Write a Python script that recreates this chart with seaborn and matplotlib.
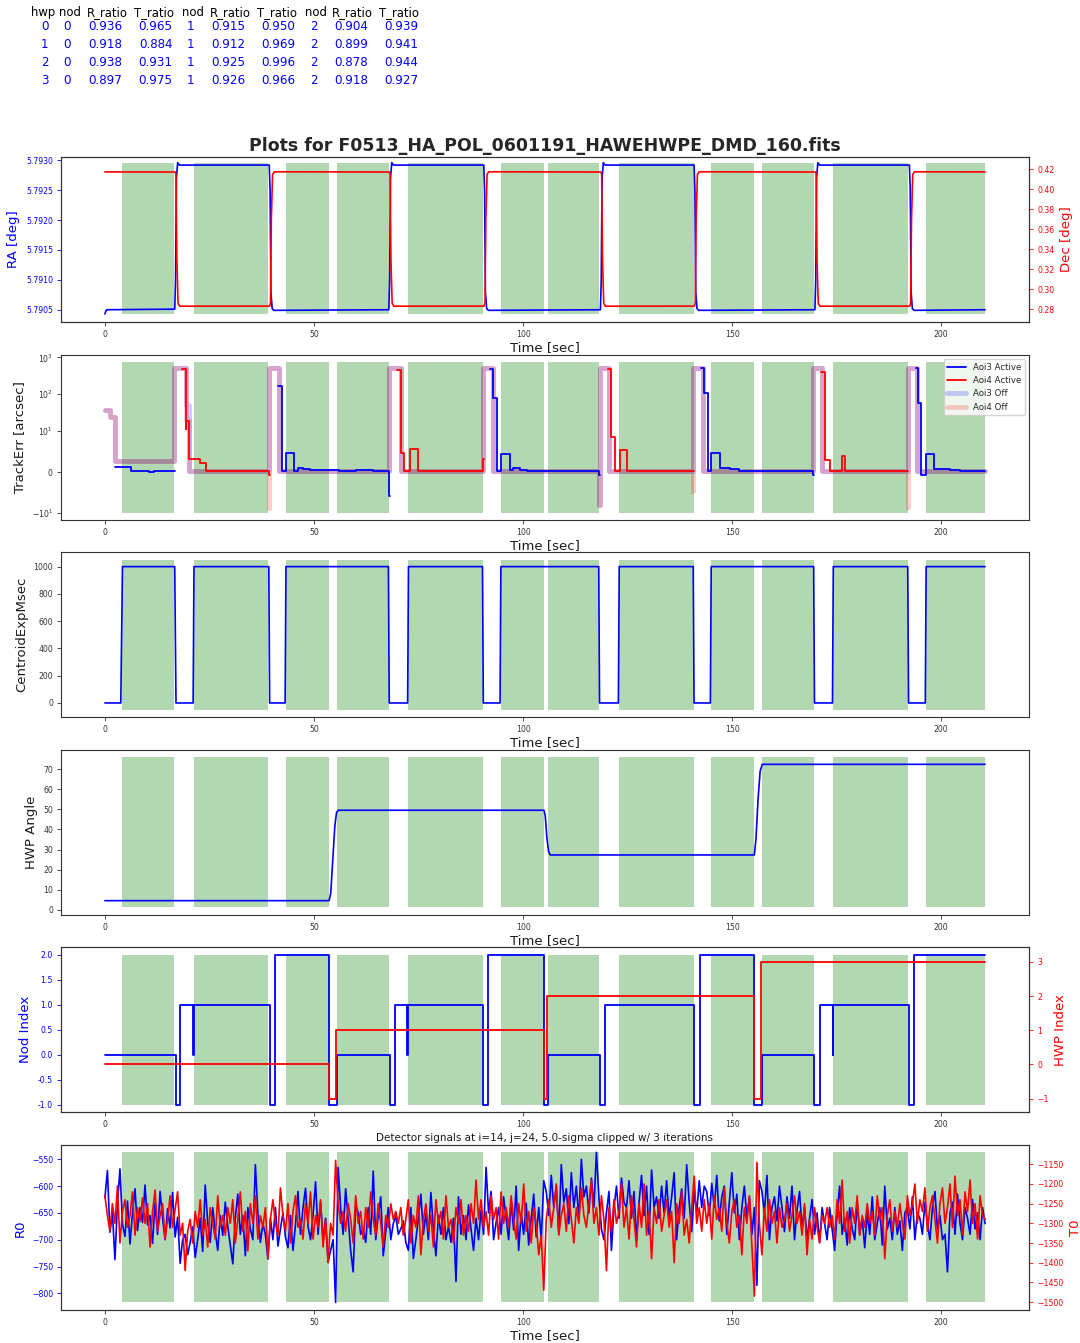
import numpy as np
import pandas as pd
import matplotlib
matplotlib.use("Agg")
import matplotlib.pyplot as plt
import seaborn as sns
from matplotlib.lines import Line2D
from matplotlib.ticker import NullLocator, FixedLocator, FormatStrFormatter

sns.set_theme(style="ticks")
plt.rcParams["font.family"] = ["DejaVu Sans"]
plt.rcParams.update({
    "axes.edgecolor": "0.2",
    "axes.linewidth": 0.8,
    "xtick.major.size": 2.8,
    "ytick.major.size": 2.8,
    "xtick.major.width": 0.6,
    "ytick.major.width": 0.6,
    "xtick.labelsize": 5.6,
    "ytick.labelsize": 5.6,
    "xtick.color": "0.2",
    "ytick.color": "0.2",
    "xtick.major.pad": 3,
    "ytick.major.pad": 3,
})

# ---------------------------------------------------------------- ratio table
table_hwp = [0, 1, 2, 3]
table_nod = [0, 1, 2]
r_ratio = [[0.936, 0.915, 0.904],
           [0.918, 0.912, 0.899],
           [0.938, 0.925, 0.878],
           [0.897, 0.926, 0.918]]
t_ratio = [[0.965, 0.950, 0.939],
           [0.884, 0.969, 0.941],
           [0.931, 0.996, 0.944],
           [0.975, 0.966, 0.927]]

title = "Plots for F0513_HA_POL_0601191_HAWEHWPE_DMD_160.fits"
detector_title = "Detector signals at i=14, j=24, 5.0-sigma clipped w/ 3 iterations"

# ---------------------------------------------------------------- on-source intervals [s]
good_spans = [(4.1, 16.6), (21.3, 39.1), (43.3, 53.6), (55.5, 68.0),
              (72.6, 90.4), (94.7, 105.0), (106.0, 118.2), (123.0, 140.8),
              (145.0, 155.2), (157.1, 169.6), (174.2, 192.1), (196.4, 210.5)]

# ---------------------------------------------------------------- telescope RA / Dec
ra_t = [0.0, 0.3, 0.5,
        16.7, 16.9, 17.1, 17.4, 17.8,
        39.3, 39.5, 39.7, 40.0, 40.4,
        67.9, 68.1, 68.3, 68.6, 69.0,
        90.6, 90.8, 91.0, 91.3, 91.7,
        118.5, 118.7, 118.9, 119.2, 119.6,
        140.9, 141.1, 141.3, 141.6, 142.0,
        169.8, 170.0, 170.2, 170.5, 170.9,
        192.4, 192.6, 192.8, 193.1, 193.5,
        210.5]
ra_deg = [5.79043, 5.79049, 5.79050,
          5.79051, 5.79100, 5.79270, 5.79296, 5.79292,
          5.79292, 5.79250, 5.79080, 5.79052, 5.79049,
          5.79050, 5.79100, 5.79270, 5.79296, 5.79292,
          5.79292, 5.79250, 5.79080, 5.79052, 5.79049,
          5.79050, 5.79100, 5.79270, 5.79296, 5.79292,
          5.79292, 5.79250, 5.79080, 5.79052, 5.79049,
          5.79050, 5.79100, 5.79270, 5.79296, 5.79292,
          5.79292, 5.79250, 5.79080, 5.79052, 5.79049,
          5.79050]
dec_t = [0.0,
         16.8, 17.0, 17.2, 17.5, 17.9,
         39.4, 39.6, 39.8, 40.1, 40.5,
         68.0, 68.2, 68.4, 68.7, 69.1,
         90.7, 90.9, 91.1, 91.4, 91.8,
         118.6, 118.8, 119.0, 119.3, 119.7,
         141.0, 141.2, 141.4, 141.7, 142.1,
         169.9, 170.1, 170.3, 170.6, 171.0,
         192.5, 192.7, 192.9, 193.2, 193.6,
         210.5]
dec_deg = [0.4175,
           0.4174, 0.4150, 0.3300, 0.2860, 0.2832,
           0.2833, 0.2870, 0.3700, 0.4150, 0.4176,
           0.4174, 0.4150, 0.3300, 0.2860, 0.2832,
           0.2833, 0.2870, 0.3700, 0.4150, 0.4176,
           0.4174, 0.4150, 0.3300, 0.2860, 0.2832,
           0.2833, 0.2870, 0.3700, 0.4150, 0.4176,
           0.4174, 0.4150, 0.3300, 0.2860, 0.2832,
           0.2833, 0.2870, 0.3700, 0.4150, 0.4176,
           0.4175]

# ---------------------------------------------------------------- tracking errors [arcsec]
aoi3_active_t = [[2.3, 6.3, 10.5, 11.8, 16.8],
                 [41.3, 42.4, 43.3, 45.3, 46.1, 47.3, 49.0, 51.5, 56.0, 60.0, 64.0, 67.9, 68.1],
                 [92.0, 92.9, 93.8, 94.8, 96.8, 97.6, 99.2, 101.0, 110.0, 115.0, 118.1, 118.3],
                 [142.6, 143.2, 144.2, 145.0, 147.1, 149.6, 151.6, 160.0, 169.3, 169.5],
                 [193.9, 194.5, 195.1, 196.3, 198.4, 202.1, 204.6, 210.5]]
aoi3_active_v = [[1.3, 0.15, -0.1, 0.1, 0.1],
                 [170, 0.2, 4.5, 0.2, 1.0, 0.75, 0.5, 0.35, 0.25, 0.4, 0.3, -6.0, -6.0],
                 [480, 80, 0.2, 4.4, 0.5, 0.9, 0.5, 0.3, 0.25, 0.3, -0.8, -0.8],
                 [500, 105, 0.3, 4.6, 0.9, 0.6, 0.3, 0.2, -0.7, -0.7],
                 [500, 56, -0.9, 4.4, 0.75, 0.55, 0.2, 0.2]]
aoi4_active_t = [[18.5, 19.4, 19.5, 20.2, 22.7, 24.1, 26.0, 30.0, 35.0, 39.2, 39.4],
                 [69.8, 70.8, 71.6, 72.9, 74.8, 80.0, 85.0, 90.5, 90.7],
                 [120.3, 121.0, 121.9, 123.2, 124.8, 130.0, 135.0, 140.7, 140.8],
                 [171.2, 172.3, 173.3, 176.2, 177.0, 185.0, 192.1]]
aoi4_active_v = [[470, 11, 19, 3.2, 2.1, 0.2, 0.1, 0.3, 0.2, -0.7, -0.7],
                 [440, 4.5, 0.2, 5.5, 0.2, 0.3, 0.2, 3.1, 3.1],
                 [470, 8.4, 0.2, 5.3, 0.2, 0.3, 0.2, 0.3, 0.3],
                 [400, 2.8, 0.2, 3.9, 0.2, 0.3, 0.3]]
aoi3_off_t = [0.0, 1.2, 2.3, 16.6, 19.4, 20.0, 39.3, 41.6, 68.0, 70.8, 90.4, 92.8,
              118.2, 118.3, 120.6, 140.7, 143.1, 169.4, 171.5, 192.1, 194.2, 210.5]
aoi3_off_v = [37, 24, 2.7, 500, 50, 0.2, 500, 0.3, 500, 0.2, 500, 0.3,
              -8, 500, 0.2, 500, 0.3, 500, 0.2, 500, 0.3, 0.3]
aoi4_off_t = [0.0, 1.2, 2.3, 16.6, 19.4, 20.0, 39.2, 39.3, 41.6, 68.0, 70.8, 90.4, 92.8,
              118.2, 118.3, 120.6, 140.6, 140.7, 143.1, 169.4, 171.5, 192.0, 192.1, 194.2, 210.5]
aoi4_off_v = [37, 24, 2.7, 500, 20, 0.2, -8.8, 500, 0.3, 500, 0.2, 500, 0.3,
              -8, 500, 0.2, -4.6, 500, 0.3, 500, 0.2, -8.6, 500, 0.3, 0.3]

# ---------------------------------------------------------------- centroid exposure [ms]
cexp_t = [0.0, 3.8, 4.2, 16.7, 17.0, 21.1, 21.3, 39.2, 39.4, 43.1, 43.3, 67.8, 68.0,
          72.4, 72.6, 90.3, 90.5, 94.5, 94.7, 118.1, 118.3, 122.8, 123.0, 140.7, 140.9,
          144.8, 145.0, 169.5, 169.7, 174.0, 174.2, 192.0, 192.2, 196.2, 196.4, 210.5]
cexp_ms = [0, 0, 1000, 1000, 0, 0, 1000, 1000, 0, 0, 1000, 1000, 0,
           0, 1000, 1000, 0, 0, 1000, 1000, 0, 0, 1000, 1000, 0,
           0, 1000, 1000, 0, 0, 1000, 1000, 0, 0, 1000, 1000]

# ---------------------------------------------------------------- half-wave plate angle [deg]
hwp_t = [0.0, 53.6, 54.0, 54.5, 55.0, 55.4, 55.8, 105.0, 105.3, 105.7, 106.1, 106.5,
         155.3, 155.7, 156.2, 156.7, 157.2, 210.5]
hwp_deg = [4.5, 4.5, 8.0, 25.0, 42.0, 48.5, 49.6, 49.6, 47.0, 36.0, 29.0, 27.3,
           27.3, 35.0, 55.0, 69.0, 72.5, 72.5]

# ---------------------------------------------------------------- nod / hwp index
nod_t = [0.0, 16.9, 18.0, 21.15, 21.25, 39.5, 40.7, 53.7, 55.4, 68.1, 69.3, 72.3, 72.4,
         90.5, 91.7, 105.05, 105.9, 118.5, 119.6, 140.9, 142.2, 155.3, 157.1, 169.7,
         170.9, 174.05, 174.15, 192.2, 193.4, 210.5]
nod_index = [0, -1, 1, 0, 1, -1, 2, -1, 0, -1, 1, 0, 1,
             -1, 2, -1, 0, -1, 1, -1, 2, -1, 0, -1,
             1, 0, 1, -1, 2, 2]
hwpi_t = [0.0, 53.7, 55.3, 105.0, 105.8, 155.3, 156.9, 210.5]
hwp_index = [0, -1, 1, -1, 2, -1, 3, 3]

# ---------------------------------------------------------------- detector signals
r0 = [
    -622, -571, -686, -650, -737, -633, -568, -671, -694, -628, -708, -650, -605, -683, -640, -668,
    -598, -672, -655, -707, -631, -690, -610, -660, -700, -642, -678, -612, -695, -658, -744, -700,
    -690, -728, -705, -676, -733, -700, -660, -722, -598, -668, -705, -640, -686, -720, -655, -692,
    -630, -675, -710, -745, -660, -615, -690, -655, -730, -640, -680, -700, -560, -650, -705, -670,
    -690, -736, -660, -700, -640, -712, -680, -650, -695, -715, -655, -720, -672, -610, -690, -640,
    -604, -675, -700, -655, -592, -690, -630, -700, -660, -742, -720, -700, -817, -565, -640, -690,
    -605, -660, -720, -760, -635, -650, -690, -680, -705, -640, -690, -572, -700, -655, -620, -730,
    -685, -640, -700, -670, -655, -690, -680, -665, -705, -720, -640, -735, -700, -660, -615, -690,
    -650, -700, -612, -680, -730, -655, -690, -640, -700, -675, -705, -660, -778, -620, -690, -655,
    -700, -635, -680, -720, -660, -700, -645, -690, -565, -650, -610, -700, -668, -640, -690, -620,
    -660, -700, -630, -682, -600, -720, -650, -690, -632, -710, -660, -615, -695, -640, -700, -590,
    -610, -655, -580, -640, -600, -690, -560, -630, -605, -670, -575, -640, -600, -660, -550, -620,
    -600, -650, -585, -640, -537, -620, -680, -700, -650, -610, -720, -640, -600, -660, -585, -630,
    -640, -590, -660, -610, -700, -630, -580, -655, -600, -690, -570, -640, -620, -660, -600, -650,
    -590, -660, -620, -575, -700, -640, -605, -660, -560, -630, -685, -610, -650, -590, -640, -600,
    -610, -655, -595, -640, -580, -665, -620, -600, -690, -630, -575, -650, -615, -700, -640, -600,
    -660, -620, -690, -640, -785, -590, -610, -650, -580, -700, -640, -620, -665, -600, -640, -685,
    -620, -660, -600, -700, -645, -610, -680, -640, -700, -660, -625, -690, -650, -705, -640, -670,
    -700, -640, -680, -720, -650, -600, -690, -660, -710, -640, -680, -700, -630, -690, -660, -715,
    -650, -690, -620, -700, -670, -640, -710, -600, -680, -660, -700, -640, -690, -665, -720, -650,
    -640, -680, -620, -700, -650, -660, -690, -630, -670, -700, -640, -610, -680, -655, -700, -690,
    -760, -650, -630, -690, -615, -670, -700, -640, -660, -690, -625, -680, -650, -700, -640, -670,
]
t0 = [
    -1230, -1280, -1320, -1250, -1300, -1205, -1350, -1270, -1240, -1310, -1280, -1220, -1330, -1260, -1295, -1235,
    -1300, -1250, -1360, -1270, -1215, -1320, -1280, -1250, -1340, -1290, -1230, -1310, -1265, -1220, -1330, -1300,
    -1420, -1320, -1290, -1350, -1270, -1310, -1240, -1330, -1290, -1360, -1260, -1300, -1340, -1230, -1310, -1280,
    -1330, -1260, -1300, -1240, -1350, -1290, -1220, -1320, -1270, -1370, -1250, -1300, -1230, -1340, -1280, -1310,
    -1260, -1390, -1290, -1240, -1300, -1330, -1210, -1280, -1320, -1250, -1350, -1270, -1230, -1310, -1290, -1340,
    -1250, -1300, -1220, -1340, -1280, -1310, -1240, -1360, -1290, -1400, -1300, -1330, -1140, -1250, -1300, -1270,
    -1320, -1250, -1290, -1350, -1230, -1300, -1270, -1340, -1260, -1310, -1220, -1290, -1330, -1250, -1300, -1360,
    -1280, -1310, -1250, -1290, -1270, -1300, -1260, -1330, -1290, -1240, -1350, -1280, -1310, -1230, -1380, -1290,
    -1250, -1320, -1280, -1360, -1240, -1300, -1270, -1340, -1230, -1310, -1290, -1350, -1260, -1300, -1240, -1330,
    -1280, -1320, -1250, -1300, -1190, -1290, -1240, -1310, -1270, -1330, -1230, -1290, -1260, -1340, -1220, -1300,
    -1260, -1310, -1230, -1290, -1340, -1250, -1300, -1200, -1320, -1270, -1350, -1260, -1300, -1380, -1330, -1470,
    -1290, -1240, -1310, -1260, -1200, -1330, -1280, -1250, -1320, -1230, -1290, -1350, -1260, -1300, -1210, -1280,
    -1310, -1250, -1190, -1300, -1260, -1330, -1230, -1290, -1420, -1260, -1320, -1240, -1300, -1270, -1200, -1310,
    -1260, -1340, -1230, -1290, -1360, -1250, -1310, -1200, -1330, -1270, -1390, -1260, -1300, -1240, -1320, -1280,
    -1240, -1310, -1270, -1400, -1250, -1300, -1220, -1330, -1290, -1350, -1260, -1180, -1300, -1260, -1320, -1240,
    -1300, -1250, -1340, -1230, -1290, -1260, -1320, -1210, -1300, -1350, -1270, -1240, -1310, -1280, -1380, -1260,
    -1300, -1230, -1360, -1485, -1145, -1300, -1380, -1260, -1320, -1240, -1300, -1270, -1350, -1260, -1310, -1290,
    -1250, -1320, -1280, -1230, -1300, -1270, -1330, -1250, -1380, -1290, -1340, -1260, -1310, -1350, -1280, -1300,
    -1260, -1310, -1280, -1340, -1240, -1300, -1190, -1320, -1270, -1350, -1260, -1300, -1230, -1330, -1280, -1310,
    -1250, -1300, -1270, -1330, -1230, -1290, -1260, -1390, -1280, -1240, -1320, -1270, -1310, -1250, -1300, -1340,
    -1230, -1280, -1250, -1200, -1300, -1240, -1270, -1210, -1320, -1260, -1230, -1290, -1350, -1250, -1210, -1300,
    -1260, -1200, -1310, -1180, -1280, -1240, -1330, -1220, -1270, -1190, -1300, -1250, -1340, -1230, -1280, -1290,
]
sig_t = np.linspace(0.0, 210.5, len(r0))

# ---------------------------------------------------------------- figure layout (pixels)
W, H = 1080, 1343
fig = plt.figure(figsize=(W / 100, H / 100), dpi=100)
ax_left, ax_width, ax_height = 61, 968, 165
ax_tops = [156.7, 355.0, 552.3, 749.7, 947.3, 1145.3]
axes = [fig.add_axes([ax_left / W, 1 - (top + ax_height) / H, ax_width / W, ax_height / H])
        for top in ax_tops]
XLIM = (-10.5, 221.0)


def shade(ax, lo, hi):
    for a, b in good_spans:
        ax.fill_between([a, b], [lo, lo], [hi, hi], color="green", alpha=0.3, lw=0, zorder=0.5)


def line(ax, t, v, color, lw=1.2, steps=False, **kw):
    extra = {"drawstyle": "steps-post"} if steps else {}
    sns.lineplot(x=t, y=v, ax=ax, color=color, lw=lw, estimator=None, sort=False,
                 **extra, **kw)


def finish(ax, xlabel=True):
    ax.set_xlim(*XLIM)
    ax.set_xlabel("Time [sec]" if xlabel else "", fontsize=9.5, labelpad=1.5, color="0.1")


# ---------------- table of ratios
cols_head = ["hwp", "nod", "R_ratio", "T_ratio", "nod", "R_ratio", "T_ratio", "nod", "R_ratio", "T_ratio"]
head_right = [55, 81, 128.3, 174, 204, 250.7, 296.7, 327.3, 373.3, 419]
val_right = [48.3, 70.7, 122.3, 172.3, 194, 245, 295, 317.3, 368.3, 418.3]
row_y = [26.7, 44.5, 62.4, 80.2]
for name, xr in zip(cols_head, head_right):
    fig.text(xr / W, 1 - 12.7 / H, name, ha="right", va="center", fontsize=8.4, color="black")
for i, h in enumerate(table_hwp):
    cells = [str(h)]
    for j, n in enumerate(table_nod):
        cells += [str(n), f"{r_ratio[i][j]:.3f}", f"{t_ratio[i][j]:.3f}"]
    for txt, xr in zip(cells, val_right):
        fig.text(xr / W, 1 - row_y[i] / H, txt, ha="right", va="center", fontsize=8.6, color="blue")

# ---------------- panel 1: RA / Dec
ax1 = axes[0]
shade(ax1, min(ra_deg), max(ra_deg))
line(ax1, ra_t, ra_deg, "blue")
ax1.set_ylim(5.79030, 5.79306)
ax1.yaxis.set_major_locator(FixedLocator([5.7905, 5.7910, 5.7915, 5.7920, 5.7925, 5.7930]))
ax1.ticklabel_format(axis="y", useOffset=False)
ax1.set_ylabel("RA [deg]", color="blue", fontsize=9.5)
ax1.tick_params(axis="y", colors="blue")
ax1.set_title(title, fontsize=12.5, fontweight="bold", pad=4)
ax1b = ax1.twinx()
line(ax1b, dec_t, dec_deg, "red")
ax1b.set_ylim(0.2677, 0.4327)
ax1b.yaxis.set_major_locator(FixedLocator([0.28, 0.30, 0.32, 0.34, 0.36, 0.38, 0.40, 0.42]))
ax1b.set_ylabel("Dec [deg]", color="red", fontsize=9.5)
ax1b.tick_params(axis="y", colors="red")
finish(ax1)

# ---------------- panel 2: tracking errors (symlog)
ax2 = axes[1]
shade(ax2, -10, 740)
line(ax2, aoi3_off_t, aoi3_off_v, "blue", lw=3.5, steps=True, alpha=0.2)
line(ax2, aoi4_off_t, aoi4_off_v, "red", lw=3.5, steps=True, alpha=0.2)
for t, v in zip(aoi3_active_t, aoi3_active_v):
    line(ax2, t, v, "blue", lw=1.3, steps=True)
for t, v in zip(aoi4_active_t, aoi4_active_v):
    line(ax2, t, v, "red", lw=1.3, steps=True)
ax2.set_yscale("symlog", linthresh=10)
ax2.set_ylim(-15.8, 1160)
ax2.yaxis.set_major_locator(FixedLocator([-10, 0, 10, 100, 1000]))
ax2.yaxis.set_minor_locator(NullLocator())
ax2.set_ylabel("TrackErr [arcsec]", fontsize=9.5, color="0.1")
handles = [Line2D([], [], color="blue", lw=1.3), Line2D([], [], color="red", lw=1.3),
           Line2D([], [], color="blue", lw=3.5, alpha=0.2), Line2D([], [], color="red", lw=3.5, alpha=0.2)]
ax2.legend(handles, ["Aoi3 Active", "Aoi4 Active", "Aoi3 Off", "Aoi4 Off"],
           loc="upper right", fontsize=6.2, frameon=True, framealpha=0.8, handlelength=2.2)
finish(ax2)

# ---------------- panel 3: centroid exposure
ax3 = axes[2]
shade(ax3, -50, 1050)
line(ax3, cexp_t, cexp_ms, "blue")
ax3.set_ylim(-105, 1105)
ax3.yaxis.set_major_locator(FixedLocator([0, 200, 400, 600, 800, 1000]))
ax3.set_ylabel("CentroidExpMsec", fontsize=9.5, color="0.1")
finish(ax3)

# ---------------- panel 4: HWP angle
ax4 = axes[3]
shade(ax4, 1.2, 76.0)
line(ax4, hwp_t, hwp_deg, "blue")
ax4.set_ylim(-2.5, 79.8)
ax4.yaxis.set_major_locator(FixedLocator([0, 10, 20, 30, 40, 50, 60, 70]))
ax4.set_ylabel("HWP Angle", fontsize=9.5, color="0.1")
finish(ax4)

# ---------------- panel 5: nod / hwp index
ax5 = axes[4]
shade(ax5, min(nod_index), max(nod_index))
line(ax5, nod_t, nod_index, "blue", lw=1.3, steps=True)
ax5.set_ylim(-1.15, 2.15)
ax5.yaxis.set_major_locator(FixedLocator([-1.0, -0.5, 0.0, 0.5, 1.0, 1.5, 2.0]))
ax5.yaxis.set_major_formatter(FormatStrFormatter("%.1f"))
ax5.set_ylabel("Nod Index", color="blue", fontsize=9.5)
ax5.tick_params(axis="y", colors="blue")
ax5b = ax5.twinx()
line(ax5b, hwpi_t, hwp_index, "red", lw=1.3, steps=True)
ax5b.set_ylim(-1.40, 3.43)
ax5b.yaxis.set_major_locator(FixedLocator([-1, 0, 1, 2, 3]))
ax5b.set_ylabel("HWP Index", color="red", fontsize=9.5)
ax5b.tick_params(axis="y", colors="red")
finish(ax5, xlabel=False)

# ---------------- panel 6: detector signals
ax6 = axes[5]
shade(ax6, min(r0), max(r0))
line(ax6, sig_t, r0, "blue", lw=1.2)
ax6.set_ylim(-831.7, -523.9)
ax6.yaxis.set_major_locator(FixedLocator([-800, -750, -700, -650, -600, -550]))
ax6.set_ylabel("R0", color="blue", fontsize=9.5)
ax6.tick_params(axis="y", colors="blue")
ax6.set_title(detector_title, fontsize=7.5, pad=3, color="0.1")
ax6b = ax6.twinx()
line(ax6b, sig_t, t0, "red", lw=1.2)
ax6b.set_ylim(-1521, -1101.7)
ax6b.yaxis.set_major_locator(FixedLocator([-1500, -1450, -1400, -1350, -1300, -1250, -1200, -1150]))
ax6b.set_ylabel("T0", color="red", fontsize=9.5)
ax6b.tick_params(axis="y", colors="red")
finish(ax6)

for ax in [ax1b, ax5b, ax6b]:
    ax.set_xlim(*XLIM)

fig.savefig("out.png", dpi=100)
